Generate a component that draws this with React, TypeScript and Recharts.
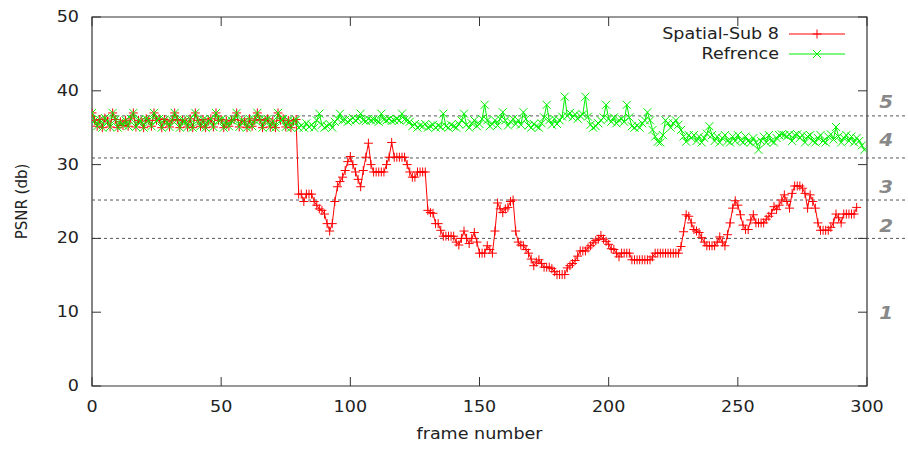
import React from "react";
import { Legend, Line, LineChart, ReferenceArea, ReferenceDot, ReferenceLine, XAxis, YAxis } from "recharts";

// frames 0-79: both encodings coincide
const firstFrames = [
  37.0, 36.0, 35.2, 36.1, 35.0, 36.3, 35.9, 35.1, 37.0, 36.1, 35.0, 35.8, 35.3, 36.0, 35.2, 36.2,
  37.0, 35.1, 36.0, 35.9, 35.0, 36.2, 36.0, 35.2, 37.0, 36.0, 36.2, 35.0, 36.1, 35.8, 35.1, 36.0,
  37.0, 36.1, 35.0, 36.0, 35.9, 35.1, 36.2, 35.0, 37.0, 36.0, 35.2, 36.1, 35.0, 35.9, 36.2, 35.1,
  37.0, 36.0, 36.1, 35.0, 35.9, 35.2, 36.0, 36.1, 37.0, 35.1, 36.0, 35.8, 35.0, 36.2, 35.2, 36.0,
  37.0, 36.1, 35.0, 36.0, 36.2, 35.1, 35.9, 35.0, 37.0, 36.0, 36.2, 35.1, 36.0, 35.0, 35.9, 36.1,
];

const refrenceRest = [
  35.0, 35.3, 35.0, 35.6, 35.1, 35.4, 35.0, 36.0, 36.9, 35.4,
  35.0, 35.2, 35.5, 35.0, 35.8, 36.2, 36.9, 36.0, 36.1, 35.8,
  36.0, 36.3, 36.0, 36.2, 36.9, 36.0, 35.9, 36.2, 36.0, 36.1,
  36.0, 35.8, 36.9, 36.1, 36.0, 36.2, 35.9, 36.0, 36.2, 36.0,
  36.9, 36.1, 36.0, 35.8, 35.2, 35.5, 35.0, 35.3, 35.2, 35.5,
  35.0, 35.2, 35.4, 35.0, 35.3, 35.1, 36.9, 35.2, 35.0, 35.4,
  35.2, 35.0, 35.5, 36.0, 36.9, 35.4, 35.0, 35.6, 36.0, 35.2,
  35.5, 36.2, 38.1, 36.0, 35.2, 35.5, 36.0, 35.3, 36.2, 37.1,
  36.0, 35.3, 35.8, 36.2, 35.5, 36.0, 35.4, 37.1, 36.2, 35.3,
  35.0, 35.5, 35.2, 35.0, 35.6, 36.4, 38.1, 36.0, 35.4, 36.2,
  35.5, 36.0, 36.5, 39.2, 36.6, 37.0, 36.4, 36.8, 36.2, 36.6,
  36.8, 39.2, 36.5, 35.4, 35.0, 35.2, 35.6, 36.0, 36.4, 38.1,
  36.2, 35.8, 36.4, 35.6, 36.0, 36.2, 35.8, 38.1, 36.4, 35.2,
  35.0, 35.3, 35.0, 35.6, 36.0, 37.1, 36.0, 34.7, 33.8, 33.1,
  33.0, 34.0, 36.0, 35.6, 35.0, 35.6, 36.0, 35.4, 34.7, 33.8,
  33.1, 34.0, 33.6, 34.0, 33.2, 33.8, 33.0, 33.6, 34.2, 35.2,
  34.0, 33.2, 33.8, 33.0, 33.6, 34.0, 33.2, 33.0, 33.8, 33.2,
  34.0, 33.3, 33.0, 33.8, 33.2, 33.0, 33.6, 33.0, 32.0, 33.2,
  33.8, 33.0, 34.0, 33.2, 33.0, 33.6, 34.0, 34.1, 34.0, 33.8,
  34.1, 33.2, 34.0, 34.1, 33.6, 34.0, 33.0, 33.8, 34.0, 33.2,
  33.0, 33.6, 34.0, 33.2, 33.0, 33.8, 34.1, 33.4, 35.1, 33.8,
  33.0, 33.6, 34.0, 33.2, 33.8, 33.0, 33.6, 33.2, 32.6, 32.0,
];

const spatialRest = [
  26.0, 26.0, 25.0, 26.0, 26.0, 26.0, 25.0, 24.5, 24.0, 23.8,
  23.3, 22.0, 21.0, 22.0, 25.0, 27.0, 27.7, 28.3, 29.2, 30.4,
  31.1, 30.0, 29.0, 28.0, 27.0, 29.2, 31.0, 32.9, 30.0, 29.0,
  29.0, 29.0, 29.0, 29.0, 30.0, 31.0, 33.0, 31.0, 31.0, 31.0,
  31.0, 31.0, 30.0, 29.0, 28.3, 28.3, 29.0, 29.0, 29.0, 29.0,
  23.8, 23.5, 23.4, 22.0, 22.0, 21.1, 20.3, 20.3, 20.3, 20.3,
  20.3, 19.5, 19.1, 20.0, 21.0, 20.0, 19.3, 20.0, 20.8, 19.5,
  18.0, 18.0, 18.0, 19.0, 18.5, 18.0, 21.0, 24.8, 24.0, 23.5,
  24.0, 24.2, 25.0, 25.2, 21.0, 19.5, 19.1, 19.0, 18.5, 18.0,
  17.2, 16.3, 16.8, 17.1, 16.6, 16.1, 16.1, 16.1, 15.9, 15.5,
  15.1, 15.1, 15.1, 15.1, 16.0, 16.3, 16.6, 17.0, 17.6, 18.3,
  18.3, 18.3, 18.7, 19.0, 19.4, 19.7, 19.9, 20.4, 19.9, 19.6,
  19.2, 18.6, 18.5, 18.0, 17.5, 18.0, 18.0, 18.0, 18.0, 17.1,
  17.1, 17.1, 17.1, 17.1, 17.1, 17.1, 17.1, 17.5, 18.0, 18.0,
  18.0, 18.0, 18.0, 18.0, 18.0, 18.0, 18.0, 18.0, 18.9, 20.9,
  23.2, 23.0, 22.1, 21.2, 21.0, 20.8, 20.1, 19.5, 19.0, 19.0,
  19.0, 19.0, 19.5, 20.2, 19.5, 19.0, 20.5, 22.1, 24.1, 25.1,
  24.5, 23.2, 21.8, 21.2, 21.2, 22.5, 23.2, 22.1, 22.1, 22.1,
  22.1, 22.6, 23.0, 23.4, 24.3, 23.9, 24.5, 25.2, 25.9, 25.0,
  24.1, 26.1, 27.1, 27.1, 27.1, 26.8, 26.1, 24.1, 25.9, 25.0,
  24.1, 22.1, 21.1, 21.1, 21.1, 21.1, 21.5, 22.1, 23.3, 22.8,
  22.1, 23.3, 23.3, 23.3, 23.3, 23.3, 24.2,
];

const refrence = [...firstFrames, ...refrenceRest];
const spatialSub8 = [...firstFrames, ...spatialRest];

const xTicks = [0, 50, 100, 150, 200, 250, 300];
const yTicks = [0, 10, 20, 30, 40, 50];
const zoneLines = [36.6, 30.9, 25.2, 20];
const zoneNames = ["5", "4", "3", "2", "1"];
const zoneNameY = [38.5, 33.3, 26.9, 21.7, 9.9];

const data = refrence.map((v, i) => ({ frame: i, ref: v, sub: spatialSub8[i] }));

const W = 908;
const H = 449;
const PL = 92;
const PR = 867;
const PT = 17;
const PB = 386;
const TICK = 9;
const SX = 1.17; // the source picture is a little wider than tall
const AXIS = "#333333";
const INK = "#222222";
const FONT = "'DejaVu Sans', sans-serif";
const RED = "#ff0000";
const GREEN = "#00f000";

const plus = (cx: number, cy: number, s = 4.5) => `M${cx - s},${cy}H${cx + s}M${cx},${cy - s}V${cy + s}`;
const cross = (cx: number, cy: number, s = 4) =>
  `M${cx - s},${cy - s}L${cx + s},${cy + s}M${cx - s},${cy + s}L${cx + s},${cy - s}`;

function Txt({ x, y, anchor = "middle", size = 15, rotate = 0, children, ...rest }: any) {
  const tf = rotate ? `translate(${x},${y}) scale(${SX},1) rotate(${rotate})` : `translate(${x},${y}) scale(${SX},1)`;
  return (
    <text transform={tf} textAnchor={anchor} dominantBaseline="central" fontSize={size} fill={INK} fontFamily={FONT} {...rest}>
      {children}
    </text>
  );
}

const YTick = ({ y, payload }: any) => (
  <g>
    <Txt x={PL - 13} y={y} anchor="end">{payload.value}</Txt>
    <line x1={PL} x2={PL + TICK} y1={y} y2={y} stroke={AXIS} />
    <line x1={PR - TICK} x2={PR} y1={y} y2={y} stroke={AXIS} />
  </g>
);

const XTick = ({ x, payload }: any) => (
  <g>
    <Txt x={x} y={PB + 21}>{payload.value}</Txt>
    <line x1={x} x2={x} y1={PB} y2={PB - TICK} stroke={AXIS} />
    <line x1={x} x2={x} y1={PT} y2={PT + TICK} stroke={AXIS} />
  </g>
);

const LegendBox = () => (
  <svg width={260} height={44} style={{ display: "block" }}>
    <Txt x={179} y={10} anchor="end">Spatial-Sub 8</Txt>
    <Txt x={179} y={30} anchor="end">Refrence</Txt>
    <line x1={189} x2={245} y1={10} y2={10} stroke={RED} />
    <path d={plus(217, 10)} stroke={RED} />
    <line x1={189} x2={245} y1={30} y2={30} stroke={GREEN} />
    <path d={cross(217, 30)} stroke={GREEN} />
  </svg>
);

export default function App() {
  return (
    <div style={{ position: "absolute", left: 0, top: 0, width: W, height: H, background: "#fff" }}>
      <LineChart width={W} height={H} data={data} margin={{ top: PT, right: W - PR, bottom: 0, left: 0 }}>
        <XAxis
          dataKey="frame"
          type="number"
          domain={[0, 300]}
          ticks={xTicks}
          height={H - PB}
          axisLine={false}
          tickLine={false}
          tick={<XTick />}
          label={{ content: () => <Txt x={(PL + PR) / 2} y={434}>frame number</Txt> }}
          allowDataOverflow
        />
        <YAxis
          type="number"
          domain={[0, 50]}
          ticks={yTicks}
          width={PL}
          axisLine={false}
          tickLine={false}
          tick={<YTick />}
          label={{
            content: () => (
              <text
                transform={`translate(22,${(PT + PB) / 2}) rotate(-90)`}
                textAnchor="middle"
                dominantBaseline="central"
                fontSize={15}
                fill={INK}
                fontFamily={FONT}
                style={{ transformBox: "view-box" }}
              >
                PSNR (db)
              </text>
            ),
          }}
        />
        {zoneLines.map((v) => (
          <ReferenceLine
            key={v}
            segment={[{ x: 0, y: v }, { x: 315, y: v }]}
            stroke="#555"
            strokeDasharray="3 3"
            ifOverflow="visible"
          />
        ))}
        {zoneNames.map((n, i) => (
          <ReferenceDot
            key={n}
            x={307.4}
            y={zoneNameY[i]}
            ifOverflow="visible"
            shape={(p: any) => (
              <Txt x={p.cx} y={p.cy} size={17} fontStyle="italic" fontWeight="bold" fill="#888">
                {n}
              </Txt>
            )}
          />
        ))}
        <ReferenceArea x1={0} x2={300} y1={0} y2={50} fill="none" stroke={AXIS} strokeWidth={1.2} ifOverflow="visible" />
        <Line
          dataKey="sub"
          type="linear"
          stroke={RED}
          strokeWidth={1}
          isAnimationActive={false}
          dot={(p: any) => <path key={`s${p.index}`} d={plus(p.cx, p.cy)} stroke={RED} fill="none" />}
        />
        <Line
          dataKey="ref"
          type="linear"
          stroke={GREEN}
          strokeWidth={1}
          isAnimationActive={false}
          dot={(p: any) => <path key={`r${p.index}`} d={cross(p.cx, p.cy)} stroke={GREEN} fill="none" />}
        />
        <Legend
          layout="horizontal"
          verticalAlign="middle"
          align="center"
          content={() => <LegendBox />}
          wrapperStyle={{ left: 600, top: 24, width: 260, height: 44 }}
        />
      </LineChart>
    </div>
  );
}
